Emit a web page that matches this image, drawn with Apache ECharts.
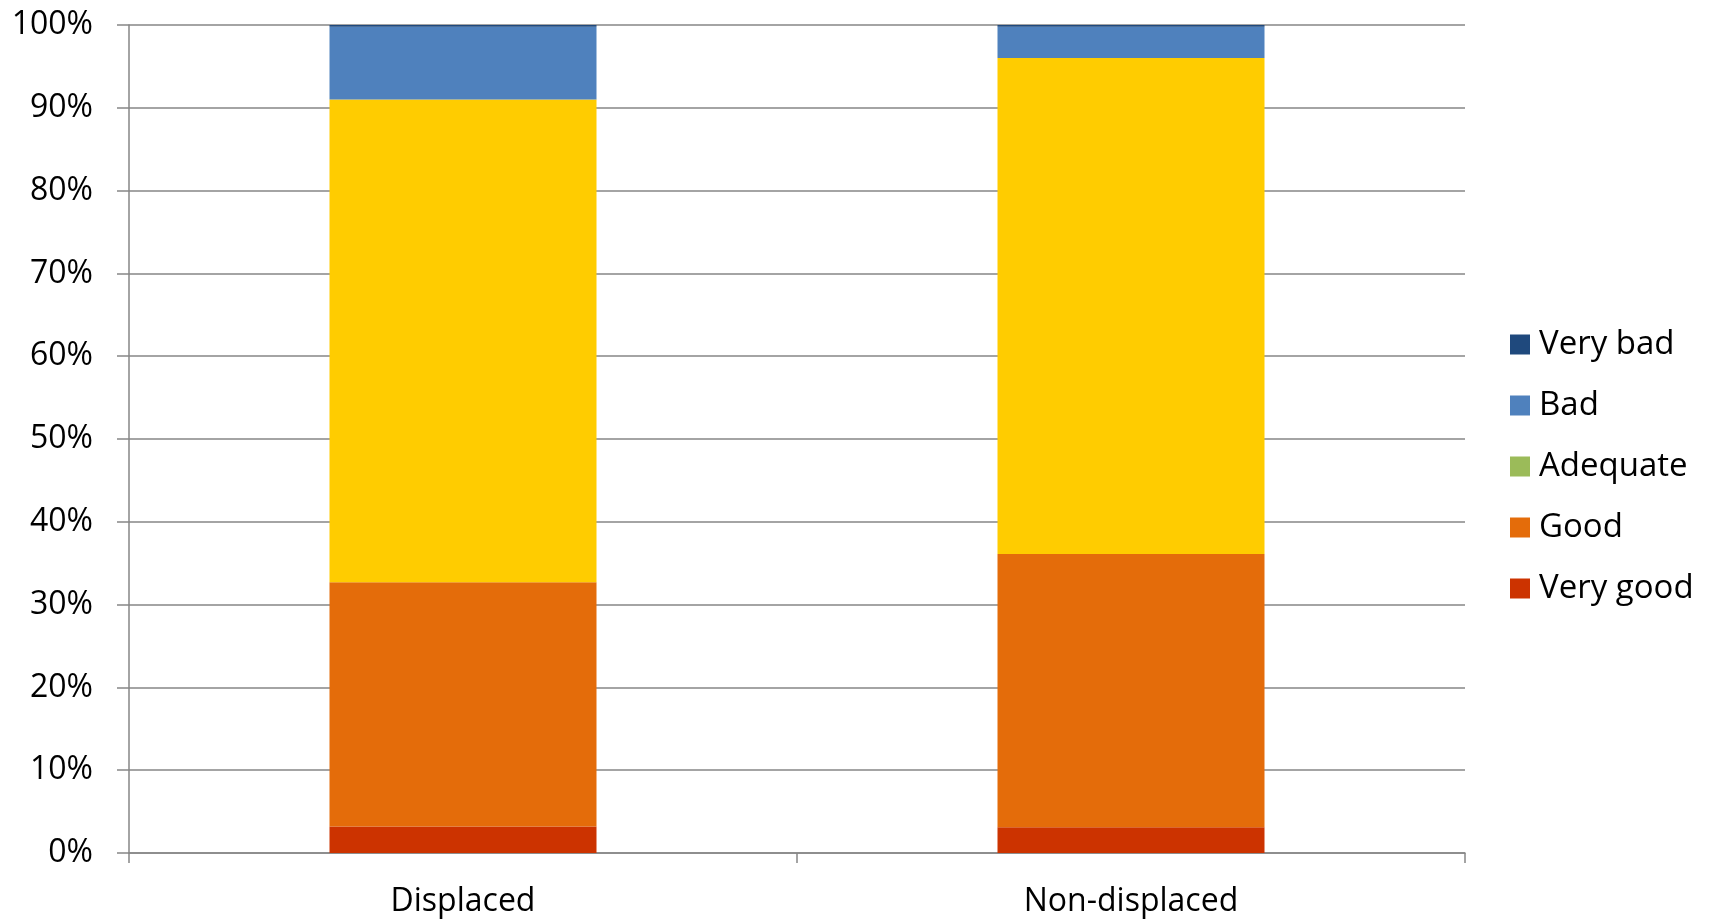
<!DOCTYPE html>
<html>
<head>
<meta charset="utf-8">
<script src="https://cdn.jsdelivr.net/npm/echarts@6/dist/echarts.min.js"></script>
<style>html,body{margin:0;padding:0;background:#fff}#c{width:1709px;height:921px}</style>
</head>
<body>
<div id="c"></div>
<script>
const categories = ['Displaced', 'Non-displaced'];
const veryGood = [3.2, 3.1];
const good = [29.5, 33.0];
const adequate = [58.3, 59.9];
const bad = [8.8, 3.8];
const veryBad = [0.2, 0.2];
const yTicks = [0, 10, 20, 30, 40, 50, 60, 70, 80, 90, 100];

const FONT = '"Open Sans", "Liberation Sans", sans-serif';
const chart = echarts.init(document.getElementById('c'));
const barW = 267;
function mk(name, data, color, itemColor) {
  return {
    name: name, type: 'bar', stack: 'a', barWidth: barW,
    itemStyle: { color: color },
    data: itemColor ? data.map(v => ({ value: v, itemStyle: { color: itemColor } })) : data
  };
}
chart.setOption({
  animation: false,
  grid: { left: 129, right: 244, top: 25, bottom: 68 },
  legend: {
    orient: 'vertical', left: 1505, top: 323,
    itemWidth: 20, itemHeight: 20, itemGap: 28,
    icon: 'rect',
    data: ['Very bad', 'Bad', 'Adequate', 'Good', 'Very good'],
    textStyle: { fontFamily: FONT, fontSize: 33, color: '#000', padding: [0, 0, 0, 4] }
  },
  xAxis: {
    type: 'category', data: categories,
    axisLine: { lineStyle: { color: '#868686', width: 1.5 } },
    axisTick: { show: true, length: 10, lineStyle: { color: '#868686', width: 1.5 } },
    axisLabel: { fontFamily: FONT, fontSize: 32, color: '#000', margin: 33 }
  },
  yAxis: {
    type: 'value', min: 0, max: 100, interval: 10,
    axisLine: { show: true, lineStyle: { color: '#868686', width: 1.5 } },
    axisTick: { show: true, length: 12, lineStyle: { color: '#868686', width: 1.5 } },
    splitLine: { lineStyle: { color: '#868686', width: 1.5 } },
    axisLabel: {
      fontFamily: FONT, fontSize: 32, color: '#000', margin: 36,
      formatter: v => (yTicks.indexOf(v) >= 0 ? v + '%' : '')
    }
  },
  series: [
    mk('Very good', veryGood, '#CC3300'),
    mk('Good', good, '#E46C0A'),
    mk('Adequate', adequate, '#9BBB59', '#FFCC00'),
    mk('Bad', bad, '#4F81BD'),
    mk('Very bad', veryBad, '#1F497D')
  ]
});
</script>
</body>
</html>
